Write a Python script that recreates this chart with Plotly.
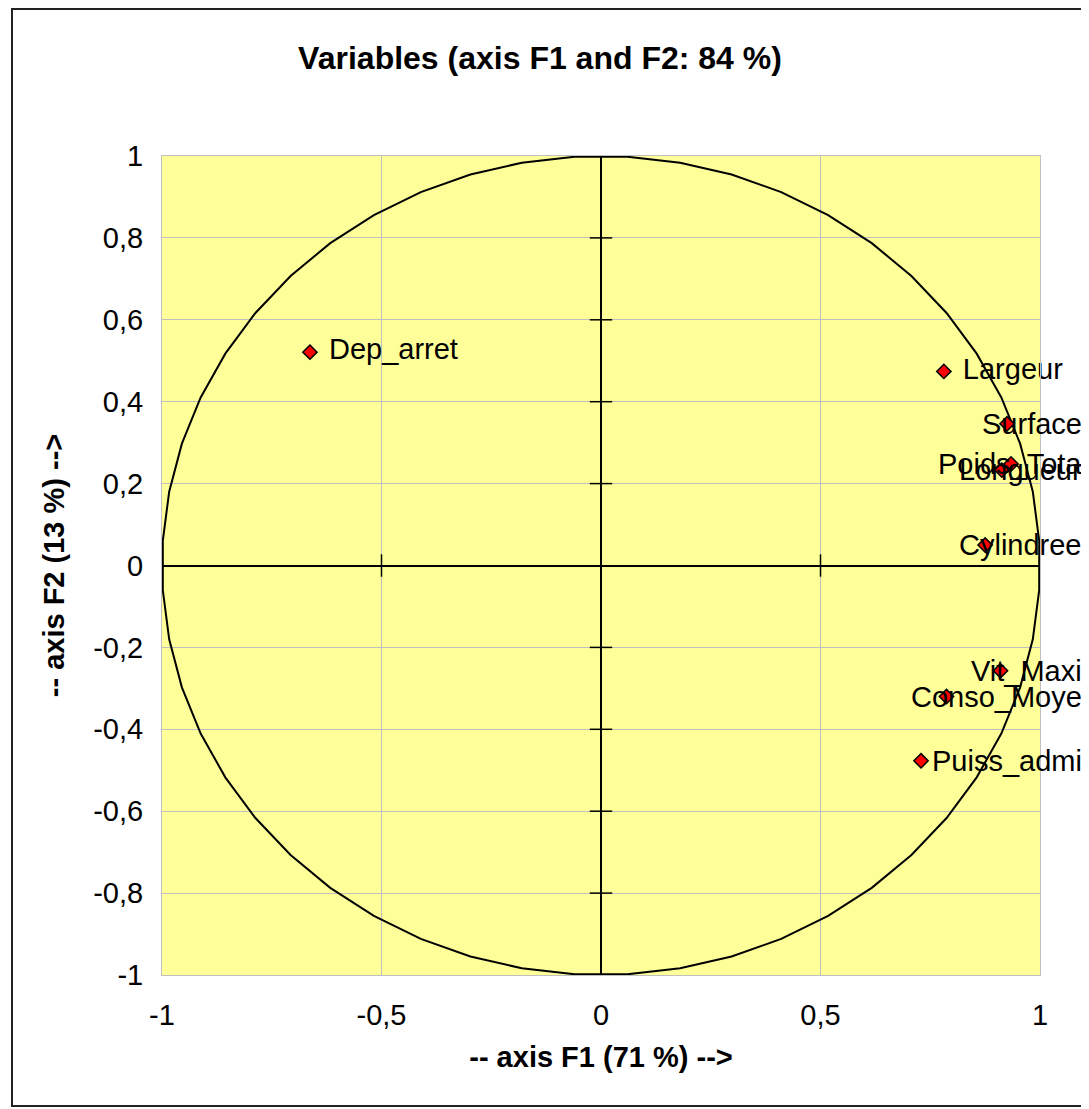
import numpy as np
import plotly.graph_objects as go

# ---- data ----
variables = ["Dep_arret", "Largeur", "Surface", "Poids_Tota", "Longueur",
             "Cylindree", "Vit_Maxi", "Conso_Moye", "Puiss_admi"]
f1 = [-0.663, 0.781, 0.925, 0.934, 0.913, 0.875, 0.910, 0.787, 0.729]
f2 = [0.521, 0.474, 0.346, 0.248, 0.233, 0.050, -0.257, -0.320, -0.477]
label_side = ["left", "left", "right", "right", "right", "right", "right", "right", "right"]

x_tickvals = [-1, -0.5, 0, 0.5, 1]
x_ticktext = ["-1", "-0,5", "0", "0,5", "1"]
y_tickvals = [-1, -0.8, -0.6, -0.4, -0.2, 0, 0.2, 0.4, 0.6, 0.8, 1]
y_ticktext = ["-1", "-0,8", "-0,6", "-0,4", "-0,2", "0", "0,2", "0,4", "0,6", "0,8", "1"]

title_text = "Variables (axis F1 and F2: 84 %)"
x_title = "-- axis F1 (71 %) -->"
y_title = "-- axis F2 (13 %) -->"

# ---- layout geometry (page has an 8px body margin) ----
OFF = 8
W, H = 1089 - OFF, 1109 - OFF
ML, MR, MT, MB = 154, 49, 148, 134
PW, PH = W - ML - MR, H - MT - MB
FONT = "Arial, Liberation Sans, sans-serif"

def px_to_paper_x(px):
    return (px - ML) / PW

def px_to_paper_y(py):
    return (H - MB - py) / PH

# unit correlation circle (polygonal, as drawn in the original)
N = 52
ang = (np.arange(N + 1) + 0.5) * 2 * np.pi / N
cx, cy = np.cos(ang), np.sin(ang)

fig = go.Figure()

fig.add_trace(go.Scatter(x=cx, y=cy, mode="lines",
                         line=dict(color="black", width=2),
                         hoverinfo="skip", showlegend=False))

# crossing tick marks on the centre axes
fig.add_trace(go.Scatter(x=[v for v in x_tickvals if v != 0], y=[0] * 4, mode="markers",
                         marker=dict(symbol="line-ns", size=16,
                                     line=dict(color="black", width=1.5)),
                         hoverinfo="skip", showlegend=False, cliponaxis=False))
fig.add_trace(go.Scatter(x=[0] * 10, y=[v for v in y_tickvals if v != 0], mode="markers",
                         marker=dict(symbol="line-ew", size=16,
                                     line=dict(color="black", width=1.5)),
                         hoverinfo="skip", showlegend=False, cliponaxis=False))

# labels placed to the right of their marker
gap = 2 * 19 / PW
idx_l = [i for i, s in enumerate(label_side) if s == "left"]
fig.add_trace(go.Scatter(x=[f1[i] + gap for i in idx_l], y=[f2[i] for i in idx_l],
                         mode="text", text=[variables[i] for i in idx_l],
                         textposition="middle right",
                         textfont=dict(family=FONT, size=29, color="black"),
                         hoverinfo="skip", showlegend=False, cliponaxis=False))

fig.add_trace(go.Scatter(x=f1, y=f2, mode="markers", text=variables,
                         marker=dict(symbol="diamond", size=11, color="#FF0000",
                                     line=dict(color="black", width=1.5)),
                         showlegend=False, cliponaxis=False))

# labels pushed back inside the chart frame (right-aligned at its inner edge)
annotations = []
for i, s in enumerate(label_side):
    if s == "right":
        annotations.append(dict(x=px_to_paper_x(1084 - OFF), xref="paper", xanchor="right",
                                y=f2[i], yref="y", yanchor="middle",
                                text=variables[i], showarrow=False,
                                font=dict(family=FONT, size=29, color="black")))

axis_common = dict(range=[-1, 1], showgrid=True, gridcolor="#C0C0C0", gridwidth=1,
                   zeroline=True, zerolinecolor="black", zerolinewidth=1.5,
                   showline=True, linecolor="#C0C0C0", linewidth=1, mirror=True,
                   ticks="outside", tickcolor="rgba(0,0,0,0)",
                   tickfont=dict(family=FONT, size=29, color="black"),
                   fixedrange=True)

fig.update_xaxes(**axis_common, tickvals=x_tickvals, ticktext=x_ticktext, ticklen=14,
                 title=dict(text=x_title, standoff=16,
                            font=dict(family=FONT, size=29, color="black", weight="bold")))
fig.update_yaxes(**axis_common, tickvals=y_tickvals, ticktext=y_ticktext, ticklen=12,
                 title=dict(text=y_title, standoff=20,
                            font=dict(family=FONT, size=29, color="black", weight="bold")))

fig.update_layout(
    width=W, height=H, autosize=False,
    margin=dict(l=ML, r=MR, t=MT, b=MB, autoexpand=False),
    paper_bgcolor="white", plot_bgcolor="#FFFF99",
    title=dict(text=title_text, x=(540 - OFF) / W, xanchor="center",
               y=1 - (58 - OFF) / H, yanchor="middle", yref="container",
               font=dict(family=FONT, size=32, color="black", weight="bold")),
    annotations=annotations,
    shapes=[dict(type="rect", xref="paper", yref="paper", layer="above",
                 x0=px_to_paper_x(12 - OFF), x1=px_to_paper_x(1087 - OFF),
                 y0=px_to_paper_y(1106 - OFF), y1=px_to_paper_y(9 - OFF),
                 line=dict(color="#222222", width=2))],
)

fig.write_html("out.html")
